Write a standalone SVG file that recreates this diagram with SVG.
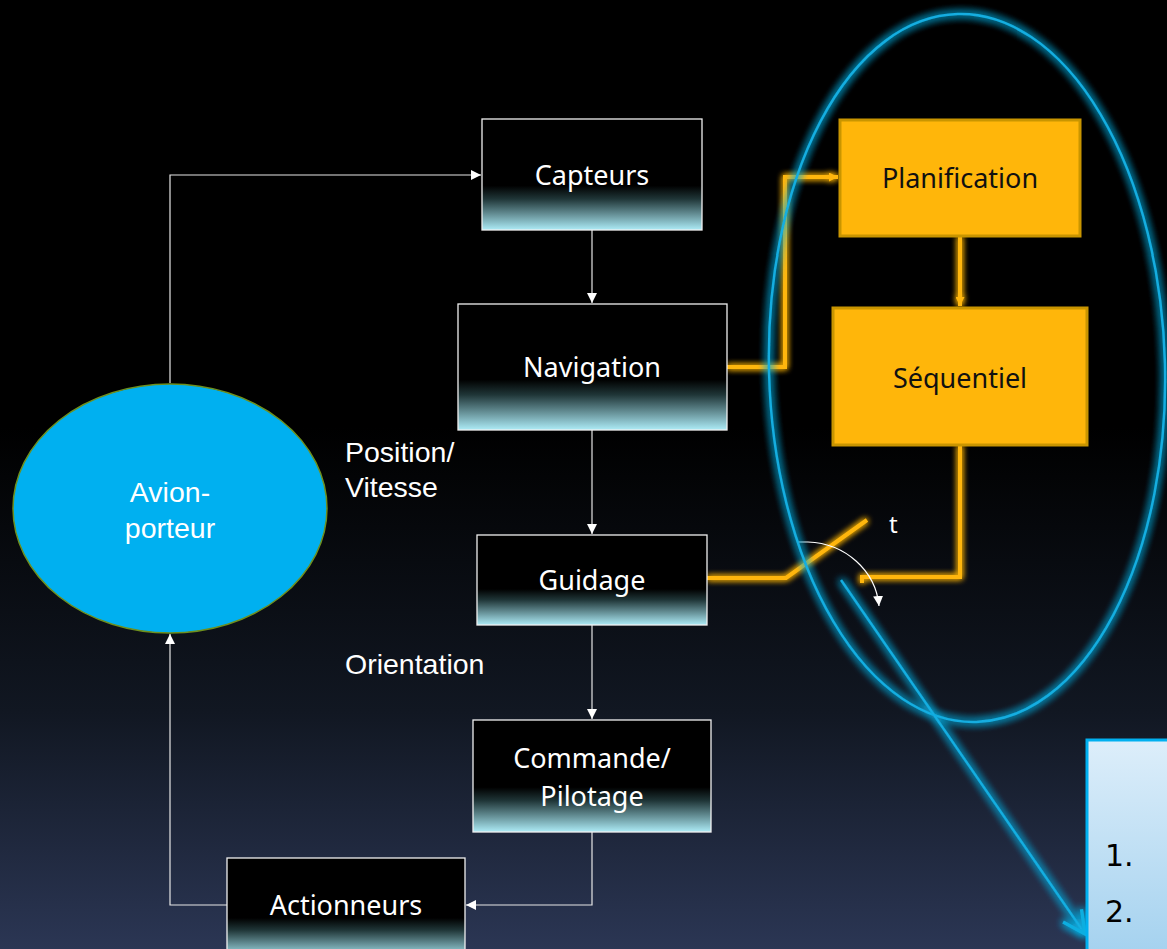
<svg xmlns="http://www.w3.org/2000/svg" width="1167" height="949" viewBox="0 0 1167 949">
<defs>
  <linearGradient id="bg" x1="0" y1="0" x2="0" y2="1">
    <stop offset="0" stop-color="#000000"/>
    <stop offset="0.45" stop-color="#000000"/>
    <stop offset="0.75" stop-color="#111722"/>
    <stop offset="1" stop-color="#2B3654"/>
  </linearGradient>
  <linearGradient id="boxg" x1="0" y1="0" x2="0" y2="1">
    <stop offset="0" stop-color="#000000"/>
    <stop offset="0.6" stop-color="#000000"/>
    <stop offset="0.72" stop-color="#1f3537"/>
    <stop offset="1" stop-color="#adecf7"/>
  </linearGradient>
  <linearGradient id="noteg" x1="0" y1="0" x2="0" y2="1">
    <stop offset="0" stop-color="#DDEEFA"/>
    <stop offset="1" stop-color="#A5D2EF"/>
  </linearGradient>
  <filter id="glowO" x="-20%" y="-20%" width="140%" height="140%">
    <feGaussianBlur in="SourceGraphic" stdDeviation="3" result="b"/>
    <feMerge><feMergeNode in="b"/><feMergeNode in="b"/><feMergeNode in="SourceGraphic"/></feMerge>
  </filter>
  <filter id="glowB" x="-20%" y="-20%" width="140%" height="140%">
    <feGaussianBlur in="SourceGraphic" stdDeviation="4" result="b"/>
    <feMerge><feMergeNode in="b"/><feMergeNode in="b"/><feMergeNode in="b"/><feMergeNode in="SourceGraphic"/></feMerge>
  </filter>
  <marker id="aw" viewBox="0 0 10 10" refX="10" refY="5" markerWidth="10" markerHeight="10" markerUnits="userSpaceOnUse" orient="auto">
    <path d="M0,0 L10,5 L0,10 z" fill="#ffffff"/>
  </marker>
  <marker id="ao" viewBox="0 0 10 10" refX="10" refY="5" markerWidth="9" markerHeight="9" markerUnits="userSpaceOnUse" orient="auto">
    <path d="M0,0 L10,5 L0,10 z" fill="#FFB60A"/>
  </marker>
  <marker id="ab" viewBox="0 0 10 10" refX="9" refY="5" markerWidth="28" markerHeight="28" markerUnits="userSpaceOnUse" orient="auto">
    <path d="M1,1 L9,5 L1,9" fill="none" stroke="#10AEE0" stroke-width="1.2"/>
  </marker>
  <style>
    .box { fill: url(#boxg); stroke: #f0f0f0; stroke-width: 1.3; }
    .obox { fill: #FFB60A; stroke: #C99500; stroke-width: 3; }
    .bt { font-family: "Noto Sans", "Open Sans", sans-serif; font-size: 27px; fill: #ffffff; text-anchor: middle; }
    .ot { font-family: "Noto Sans", "Open Sans", sans-serif; font-size: 27px; fill: #111111; text-anchor: middle; }
    .lbl { font-family: "Liberation Sans", Arial, sans-serif; font-size: 28.5px; fill: #ffffff; }
    .wc { fill: none; stroke: #e6e6e6; stroke-width: 1.2; }
    .oc { fill: none; stroke: #FFB60A; stroke-width: 4; }
    .bl { fill: none; stroke: #12ADE0; stroke-width: 2.5; }
  </style>
</defs>
<rect x="0" y="0" width="1167" height="949" fill="url(#bg)"/>

<g id="connectors">
  <path class="wc" d="M170,383 V175 H481" marker-end="url(#aw)"/>
  <path class="wc" d="M592,230 V303" marker-end="url(#aw)"/>
  <path class="wc" d="M592,430 V534" marker-end="url(#aw)"/>
  <path class="wc" d="M592,625 V719" marker-end="url(#aw)"/>
  <path class="wc" d="M592,832 V905 H466" marker-end="url(#aw)"/>
  <path class="wc" d="M227,905 H170 V634" marker-end="url(#aw)"/>
  <g filter="url(#glowO)">
    <path class="oc" d="M727,367 H785 V177 H838" marker-end="url(#ao)"/>
    <path class="oc" d="M960,236 V306" marker-end="url(#ao)"/>
    <path class="oc" d="M960,445 V577 H862 V583"/>
    <path class="oc" d="M707,578 H786 L867,520"/>
  </g>
  <path d="M798,542 H808 A74 70 0 0 1 879,606" fill="none" stroke="#ffffff" stroke-width="1.2" marker-end="url(#aw)"/>
</g>

<g id="avion">
  <ellipse cx="170" cy="508.5" rx="157" ry="124.5" fill="#00B0F0" stroke="#6E8F1E" stroke-width="1.5"/>
  <text class="lbl" x="170" y="502" text-anchor="middle" font-size="29">Avion-</text>
  <text class="lbl" x="170" y="538" text-anchor="middle" font-size="29">porteur</text>
</g>

<g id="capteurs">
  <rect class="box" x="482" y="119" width="220" height="111"/>
  <text class="bt" x="592" y="185">Capteurs</text>
</g>
<g id="navigation">
  <rect class="box" x="458" y="304" width="269" height="126"/>
  <text class="bt" x="592" y="377">Navigation</text>
</g>
<g id="guidage">
  <rect class="box" x="477" y="535" width="230" height="90"/>
  <text class="bt" x="592" y="590">Guidage</text>
</g>
<g id="commande">
  <rect class="box" x="473" y="720" width="238" height="112"/>
  <text class="bt" x="592" y="768">Commande/</text>
  <text class="bt" x="592" y="806">Pilotage</text>
</g>
<g id="actionneurs">
  <rect class="box" x="227" y="858" width="238" height="100"/>
  <text class="bt" x="346" y="915">Actionneurs</text>
</g>
<g id="planification">
  <rect class="obox" x="840" y="120" width="240" height="116"/>
  <text class="ot" x="960" y="188">Planification</text>
</g>
<g id="sequentiel">
  <rect class="obox" x="833" y="308" width="254" height="137"/>
  <text class="ot" x="960" y="388">Séquentiel</text>
</g>

<g id="labels">
  <text class="lbl" x="345" y="462">Position/</text>
  <text class="lbl" x="345" y="497">Vitesse</text>
  <text class="lbl" x="345" y="674">Orientation</text>
  <text x="889" y="533" font-family="Noto Sans, sans-serif" font-size="24" fill="#ffffff">t</text>
</g>

<g id="highlight" filter="url(#glowB)">
  <ellipse class="bl" cx="967" cy="368" rx="198" ry="354" transform="rotate(-1.5 967 368)"/>
  <path class="bl" d="M841,580 L1085,934" stroke-width="3.5" marker-end="url(#ab)"/>
</g>

<g id="note">
  <rect x="1087" y="740" width="82" height="212" fill="url(#noteg)" stroke="#00B0F0" stroke-width="3"/>
  <text x="1105" y="866" font-family="DejaVu Sans, sans-serif" font-size="30" fill="#000000">1.</text>
  <text x="1105" y="922" font-family="DejaVu Sans, sans-serif" font-size="30" fill="#000000">2.</text>
</g>
</svg>
